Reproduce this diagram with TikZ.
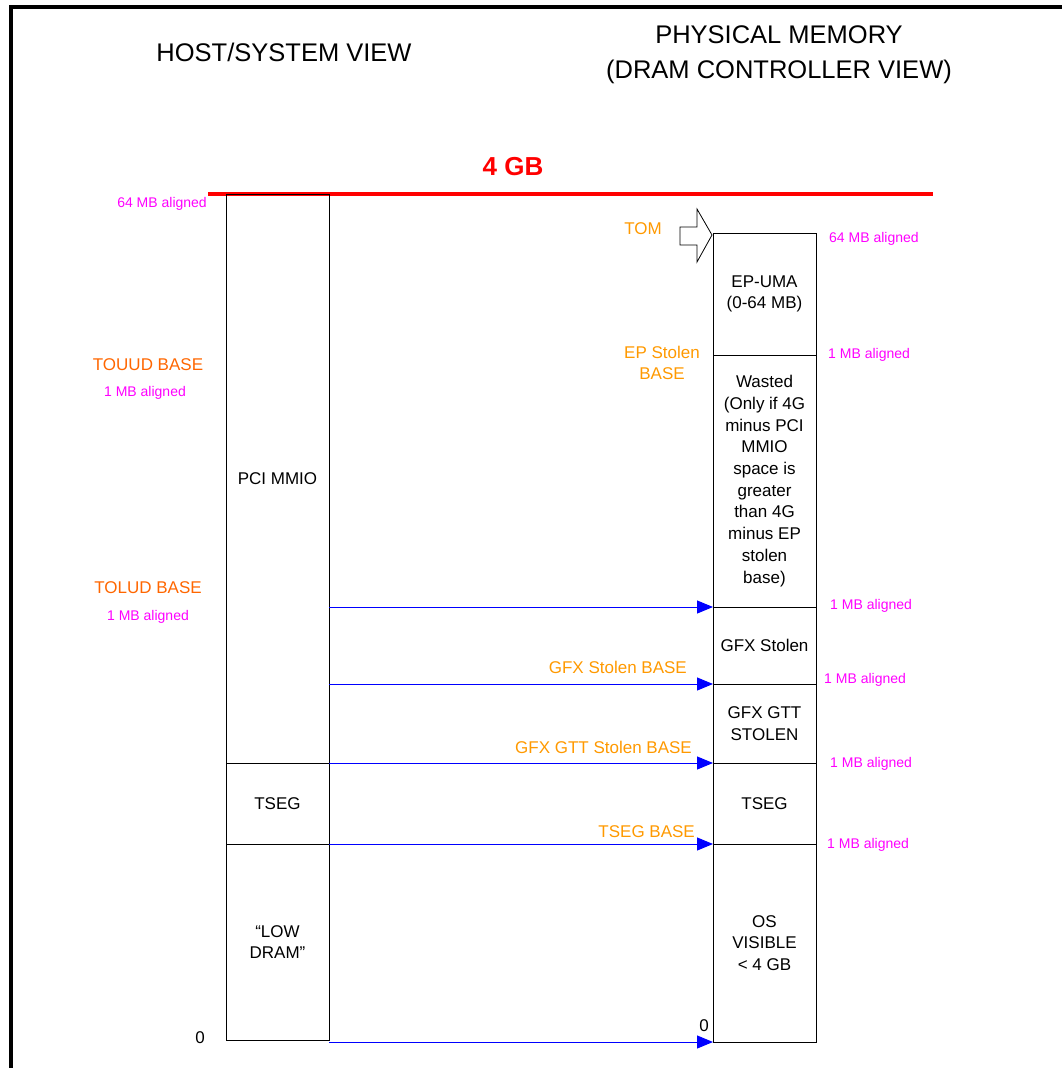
\documentclass[tikz,border=0pt]{standalone}
\usepackage{fontspec}
\setmainfont{Liberation Sans}
\usetikzlibrary{arrows.meta,positioning}
\definecolor{tomorange}{HTML}{FF9900}
\definecolor{baseorange}{HTML}{FF6600}
\definecolor{alignpink}{HTML}{FF00FF}
\begin{document}
\begin{tikzpicture}[x=1pt, y=-1pt,
  blk/.style={draw, line width=0.9pt, inner sep=0pt, outer sep=0pt, minimum width=103pt, align=center, font=\fontsize{17}{21.7}\selectfont},
  conn/.style={blue, line width=1pt, -{Triangle[length=16pt, width=13pt]}},
  basetxt/.style={text=tomorange, inner sep=0pt, align=center, font=\fontsize{17}{21}\selectfont},
  alntxt/.style={text=alignpink, inner sep=0pt, font=\fontsize{14}{17}\selectfont},
  hdr/.style={inner sep=0pt, align=center, font=\fontsize{25.5}{35}\selectfont}]
\useasboundingbox (0,0) rectangle (1061,1068);
% frame
\draw[line width=3.2pt] (11,1072) -- (11,7) -- (1065,7);
% headings
\node[hdr] (hostview) at (284,52) {HOST/SYSTEM VIEW};
\node[hdr] (physview) at (779,55) {PHYSICAL MEMORY\\(DRAM CONTROLLER VIEW)};
\node[text=red, inner sep=0pt, font=\bfseries\fontsize{26}{30}\selectfont] (fourgb) at (513,167) {4 GB};
\draw[red, line width=3.5pt] (208,194) -- (933,194);
% host/system view
\node[blk, minimum height=569pt] (pci) at (277.5,478.5) {PCI MMIO};
\node[blk, minimum height=81pt, below=0pt of pci] (tsegl) {TSEG};
\node[blk, minimum height=196pt, below=0pt of tsegl] (lowdram) {“LOW\\DRAM”};
% dram controller view
\node[blk, minimum height=122pt] (epuma) at (764.5,294) {EP-UMA\\(0-64 MB)};
\node[blk, minimum height=252pt, below=0pt of epuma] (wasted) {Wasted\\(Only if 4G\\minus PCI\\MMIO\\space is\\greater\\than 4G\\minus EP\\stolen\\base)};
\node[blk, minimum height=77pt, below=0pt of wasted] (gfxst) {GFX Stolen};
\node[blk, minimum height=79pt, below=0pt of gfxst] (gtt) {GFX GTT\\STOLEN};
\node[blk, minimum height=81pt, below=0pt of gtt] (tsegr) {TSEG};
\node[blk, minimum height=198pt, below=0pt of tsegr] (osvis) {OS\\VISIBLE\\< 4 GB};
% mapping arrows
\draw[conn] (pci.east |- gfxst.north west) -- (gfxst.north west);
\draw[conn] (pci.east |- gtt.north west) -- (gtt.north west);
\draw[conn] (tsegl.north east) -- (tsegr.north west);
\draw[conn] (lowdram.north east) -- (osvis.north west);
\draw[conn] (lowdram.east |- osvis.south west) -- (osvis.south west);
% TOM pointer
\draw[line width=0.8pt, fill=white] (680,227) -- (697,227) -- (697,209) -- (712,235) -- (697,262) -- (697,245) -- (680,245) -- cycle;
% base labels
\node[basetxt] (tom) at (643,229) {TOM};
\node[basetxt] (epbase) at (662,362.5) {EP Stolen\\BASE};
\node[basetxt, anchor=east] (gfxstbase) at (687,667) {GFX Stolen BASE};
\node[basetxt, anchor=east] (gttbase) at (692,747) {GFX GTT Stolen BASE};
\node[basetxt, anchor=east] (tsegbase) at (695,832) {TSEG BASE};
\node[basetxt, text=baseorange] (touud) at (148,365) {TOUUD BASE};
\node[basetxt, text=baseorange] (tolud) at (148,588) {TOLUD BASE};
% alignment labels
\node[alntxt, anchor=east] (alnhost) at (207,204) {64 MB aligned};
\node[alntxt] (alntouud) at (145,393) {1 MB aligned};
\node[alntxt] (alntolud) at (148,617) {1 MB aligned};
\node[alntxt, anchor=west] (alntom) at (829,239) {64 MB aligned};
\node[alntxt, anchor=west] (alnep) at (828,355) {1 MB aligned};
\node[alntxt, anchor=west] (alngfx) at (830,606) {1 MB aligned};
\node[alntxt, anchor=west] (alngtt) at (824,680) {1 MB aligned};
\node[alntxt, anchor=west] (alntseg) at (830,764) {1 MB aligned};
\node[alntxt, anchor=west] (alnlow) at (827,845) {1 MB aligned};
% zero marks
\node[inner sep=0pt, font=\fontsize{17}{20}\selectfont] (zerohost) at (200,1038) {0};
\node[inner sep=0pt, font=\fontsize{17}{20}\selectfont] (zerodram) at (704,1026) {0};
\end{tikzpicture}
\end{document}
